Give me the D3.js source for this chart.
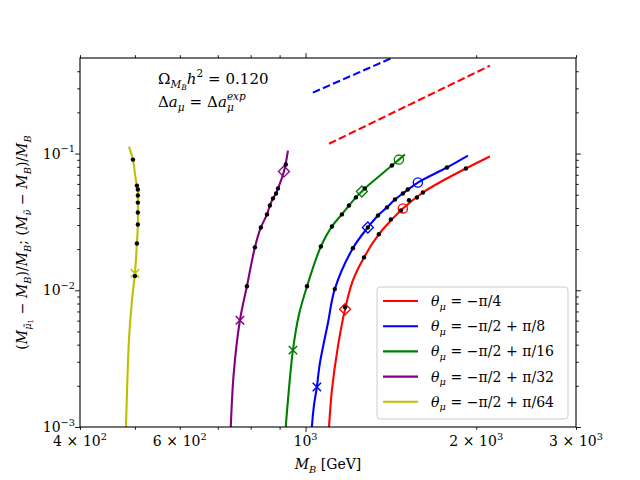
<!DOCTYPE html>
<html>
<head>
<meta charset="utf-8">
<script src="https://cdn.jsdelivr.net/npm/d3@7"></script>
<style>
body { margin: 0; background: #fff; }
</style>
</head>
<body>
<div id="chart"></div>
<script>

const WIDTH = 640
const HEIGHT = 480
const PLOT = {left: 80, right: 576, top: 58, bottom: 427}
const FONT = "'DejaVu Serif', 'Liberation Serif', serif"
const FS = 14

// x = M_B [GeV], y = mass splitting
const seriesLabels = ["\u2212\u03c0/4", "\u2212\u03c0/2 + \u03c0/8", "\u2212\u03c0/2 + \u03c0/16", "\u2212\u03c0/2 + \u03c0/32", "\u2212\u03c0/2 + \u03c0/64"]
const seriesColors = ["#ff0000", "#0000ff", "#008000", "#800080", "#bfbf00"]

const redCurve = [[1097, 0.0008], [1100, 0.001], [1113, 0.00186], [1140, 0.00384], [1174, 0.00726], [1212, 0.0118], [1268, 0.0174], [1347, 0.0257], [1420, 0.033], [1485, 0.0397], [1611, 0.0519], [1762, 0.0646], [1918, 0.0778], [2114, 0.0951]]
const blueCurve = [[1024, 0.0008], [1026, 0.001], [1035, 0.00145], [1047, 0.00196], [1060, 0.00293], [1095, 0.00574], [1126, 0.0102], [1212, 0.0203], [1288, 0.0288], [1342, 0.0352], [1392, 0.0404], [1438, 0.0461], [1485, 0.0511], [1578, 0.0614], [1776, 0.0791], [1934, 0.0966]]
const greenCurve = [[921, 0.0008], [923, 0.001], [931, 0.00157], [950, 0.00365], [973, 0.00657], [1006, 0.0107], [1064, 0.0209], [1113, 0.0293], [1159, 0.0359], [1193, 0.0417], [1227, 0.0478], [1257, 0.0528], [1272, 0.0556], [1420, 0.0817], [1461, 0.0903], [1497, 0.0984]]
const purpleCurve = [[737, 0.0008], [738, 0.001], [747, 0.00248], [766, 0.00604], [788, 0.0107], [814, 0.0206], [834, 0.0288], [855, 0.0359], [865, 0.0417], [876, 0.047], [887, 0.0511], [894, 0.0556], [916, 0.074], [931, 0.105]]
const yellowCurve = [[481, 0.0008], [482, 0.001], [488, 0.00431], [494, 0.00845], [500, 0.0133], [504, 0.022], [506, 0.0303], [506, 0.0371], [506, 0.0438], [506, 0.0493], [506, 0.0546], [504, 0.0583], [500, 0.0714], [496, 0.0903], [488, 0.1125]]
const curves = [redCurve, blueCurve, greenCurve, purpleCurve, yellowCurve]

// black dots sitting on the curves
const redDots = [[1174, 0.00752], [1268, 0.0174], [1347, 0.0257], [1414, 0.033], [1473, 0.0384], [1522, 0.0456], [1572, 0.0477], [1611, 0.0519], [1918, 0.0778]]
const blueDots = [[1126, 0.0102], [1212, 0.0203], [1288, 0.0288], [1342, 0.0352], [1392, 0.0404], [1438, 0.0461], [1485, 0.0511], [1515, 0.0546], [1776, 0.0791]]
const greenDots = [[1006, 0.0107], [1064, 0.0209], [1113, 0.0293], [1159, 0.0359], [1193, 0.0417], [1227, 0.0478], [1272, 0.0556], [1420, 0.0817]]
const purpleDots = [[788, 0.0107], [814, 0.0206], [834, 0.0288], [855, 0.0359], [865, 0.0417], [876, 0.047], [887, 0.0511], [894, 0.0556], [923, 0.0832]]
const yellowDots = [[500, 0.0127], [504, 0.022], [506, 0.0303], [506, 0.0371], [506, 0.0438], [506, 0.0493], [506, 0.0546], [504, 0.0583], [496, 0.0903]]
const dots = [redDots, blueDots, greenDots, purpleDots, yellowDots]

// open markers: x, diamond, circle  (null = none)
const crossMarks = [null, [1047, 0.00196], [950, 0.00365], [766, 0.00604], [500, 0.0133]]
const diamondMarks = [[1174, 0.00726], [1288, 0.0288], [1257, 0.0528], [916, 0.074], null]
const circleMarks = [[1485, 0.0397], [1578, 0.0614], [1461, 0.0903], null, null]

// dashed lines at the top
const blueDashed = [[1030, 0.279], [1420, 0.5]]
const redDashed = [[1100, 0.118], [2114, 0.439]]

const xMajorTicks = [1000]
const xMinorTicks = [400, 500, 600, 700, 800, 900, 2000, 3000]
const xTickLabels = [[400, "4", "2"], [600, "6", "2"], [1000, null, "3"], [2000, "2", "3"], [3000, "3", "3"]]
const yMajorTicks = [0.001, 0.01, 0.1]
const yMinorTicks = [2e-3, 3e-3, 4e-3, 5e-3, 6e-3, 7e-3, 8e-3, 9e-3, 2e-2, 3e-2, 4e-2, 5e-2, 6e-2, 7e-2, 8e-2, 9e-2, 0.2, 0.3, 0.4]
const yTickLabels = [[0.001, "\u22123"], [0.01, "\u22122"], [0.1, "\u22121"]]

// math-ish spacing around binary operators
const SP = "\u2004"


const svg = d3.select("#chart").append("svg")
    .attr("width", WIDTH)
    .attr("height", HEIGHT)
    .style("font-family", FONT)

const x = d3.scaleLog().domain([400, 3000]).range([PLOT.left, PLOT.right])
const y = d3.scaleLog().domain([0.001, 0.5]).range([PLOT.bottom, PLOT.top])

svg.append("clipPath").attr("id", "plotClip")
    .append("rect")
    .attr("x", PLOT.left).attr("y", PLOT.top)
    .attr("width", PLOT.right - PLOT.left).attr("height", PLOT.bottom - PLOT.top)

// small helper for text with sub/superscripts
// each part: {t, i (italic), o (vertical offset in em), z (size factor), back (overlap previous)}
function mathText(parent, parts, fs) {
    let t = parent.append("text").attr("font-size", fs).attr("fill", "#000")
    let cur = 0
    let prev = null
    parts.forEach(p => {
        let off = (p.o || 0) * fs
        let ts = t.append("tspan")
            .text(p.t)
            .attr("dy", off - cur)
            .attr("font-style", p.i ? "italic" : "normal")
            .attr("font-size", (p.z || 1) * fs)
        if (p.back && prev) ts.attr("dx", -prev.node().getComputedTextLength())
        cur = off
        prev = ts
    })
    return t
}

// ---- axes ----
function drawTicks(axisFn, ticks, size, transform) {
    svg.append("g")
        .attr("transform", transform)
        .call(axisFn.tickValues(ticks).tickSize(size).tickSizeOuter(0).tickFormat(""))
        .call(g => g.select(".domain").remove())
        .call(g => g.selectAll("line").attr("stroke", "#000").attr("stroke-width", 0.9))
}

drawTicks(d3.axisBottom(x), xMajorTicks, 4.9, `translate(0,${PLOT.bottom})`)
drawTicks(d3.axisBottom(x), xMinorTicks, 2.8, `translate(0,${PLOT.bottom})`)
drawTicks(d3.axisTop(x), xMajorTicks, 4.9, `translate(0,${PLOT.top})`)
drawTicks(d3.axisTop(x), xMinorTicks, 2.8, `translate(0,${PLOT.top})`)
drawTicks(d3.axisLeft(y), yMajorTicks, 4.9, `translate(${PLOT.left},0)`)
drawTicks(d3.axisLeft(y), yMinorTicks, 2.8, `translate(${PLOT.left},0)`)
drawTicks(d3.axisRight(y), yMajorTicks, 4.9, `translate(${PLOT.right},0)`)
drawTicks(d3.axisRight(y), yMinorTicks, 2.8, `translate(${PLOT.right},0)`)

xTickLabels.forEach(([v, mant, ex]) => {
    let parts = []
    if (mant) parts.push({t: mant + SP + "\u00d7" + SP})
    parts.push({t: "10"}, {t: ex, o: -0.45, z: 0.7})
    mathText(svg, parts, FS)
        .attr("x", x(v)).attr("y", PLOT.bottom + 19)
        .attr("text-anchor", "middle")
})

yTickLabels.forEach(([v, ex]) => {
    mathText(svg, [{t: "10"}, {t: ex, o: -0.45, z: 0.7}], FS)
        .attr("x", PLOT.left - 5).attr("y", y(v) + 5)
        .attr("text-anchor", "end")
})

// axis titles
mathText(svg, [{t: "M", i: true}, {t: "B", i: true, o: 0.25, z: 0.7}, {t: " [GeV]", o: 0}], FS)
    .attr("x", 328).attr("y", 469)
    .attr("text-anchor", "middle")

mathText(svg, [
    {t: "("}, {t: "M", i: true}, {t: "\u03bc\u0303", i: true, o: 0.25, z: 0.7}, {t: "1", o: 0.42, z: 0.5},
    {t: SP + "\u2212" + SP}, {t: "M", i: true}, {t: "B", i: true, o: 0.25, z: 0.7},
    {t: ")/"}, {t: "M", i: true}, {t: "B", i: true, o: 0.25, z: 0.7},
    {t: ";" + SP + "("}, {t: "M", i: true}, {t: "\u03bd\u0303", i: true, o: 0.25, z: 0.7},
    {t: SP + "\u2212" + SP}, {t: "M", i: true}, {t: "B", i: true, o: 0.25, z: 0.7},
    {t: ")/"}, {t: "M", i: true}, {t: "B", i: true, o: 0.25, z: 0.7}
], FS)
    .attr("text-anchor", "middle")
    .attr("transform", `translate(27,${(PLOT.top + PLOT.bottom) / 2}) rotate(-90)`)

// ---- data ----
const plot = svg.append("g").attr("clip-path", "url(#plotClip)")

const line = d3.line()
    .x(d => x(d[0]))
    .y(d => y(d[1]))
    .curve(d3.curveCatmullRom.alpha(0.5))

plot.append("path").datum(blueDashed)
    .attr("d", d3.line().x(d => x(d[0])).y(d => y(d[1])))
    .attr("fill", "none").attr("stroke", "#0000ff").attr("stroke-width", 2.1)
    .attr("stroke-dasharray", "7.7,3.3")
plot.append("path").datum(redDashed)
    .attr("d", d3.line().x(d => x(d[0])).y(d => y(d[1])))
    .attr("fill", "none").attr("stroke", "#ff0000").attr("stroke-width", 2.1)
    .attr("stroke-dasharray", "7.7,3.3")

curves.forEach((c, i) => {
    plot.append("path").datum(c)
        .attr("d", line)
        .attr("fill", "none")
        .attr("stroke", seriesColors[i])
        .attr("stroke-width", 2.1)
})

// open markers
seriesColors.forEach((col, i) => {
    let cm = crossMarks[i]
    if (cm) {
        let cx = x(cm[0]), cy = y(cm[1]), s = 4.2
        plot.append("path")
            .attr("d", `M${cx - s},${cy - s}L${cx + s},${cy + s}M${cx - s},${cy + s}L${cx + s},${cy - s}`)
            .attr("stroke", col).attr("stroke-width", 1.5).attr("fill", "none")
    }
    let dm = diamondMarks[i]
    if (dm) {
        let cx = x(dm[0]), cy = y(dm[1]), s = 5.5
        plot.append("path")
            .attr("d", `M${cx},${cy - s}L${cx + s},${cy}L${cx},${cy + s}L${cx - s},${cy}Z`)
            .attr("stroke", col).attr("stroke-width", 1.3).attr("fill", "none")
    }
    let ci = circleMarks[i]
    if (ci) {
        plot.append("circle")
            .attr("cx", x(ci[0])).attr("cy", y(ci[1])).attr("r", 4.6)
            .attr("stroke", col).attr("stroke-width", 1.3).attr("fill", "none")
    }
})

dots.forEach(ds => {
    plot.selectAll(null).data(ds).enter().append("circle")
        .attr("cx", d => x(d[0]))
        .attr("cy", d => y(d[1]))
        .attr("r", 2.2)
        .attr("fill", "#000")
})

// frame
svg.append("rect")
    .attr("x", PLOT.left).attr("y", PLOT.top)
    .attr("width", PLOT.right - PLOT.left).attr("height", PLOT.bottom - PLOT.top)
    .attr("fill", "none").attr("stroke", "#000").attr("stroke-width", 1.1)

// annotation
mathText(svg, [
    {t: "\u03a9"}, {t: "M", i: true, o: 0.25, z: 0.7}, {t: "B", i: true, o: 0.4, z: 0.5},
    {t: "h", i: true, o: 0}, {t: "2", o: -0.45, z: 0.7}, {t: SP + "=" + SP + "0.120", o: 0}
], 15).attr("x", 158).attr("y", 84)

mathText(svg, [
    {t: "\u0394"}, {t: "a", i: true}, {t: "\u03bc", i: true, o: 0.25, z: 0.7},
    {t: SP + "=" + SP + "\u0394", o: 0}, {t: "a", i: true},
    {t: "\u03bc", i: true, o: 0.25, z: 0.7},
    {t: "exp", i: true, o: -0.45, z: 0.7, back: true}
], 15).attr("x", 158).attr("y", 107)

// legend
const legend = svg.append("g")
legend.append("rect")
    .attr("x", 377).attr("y", 287).attr("width", 191).attr("height", 132)
    .attr("rx", 3).attr("fill", "#fff").attr("fill-opacity", 0.8)
    .attr("stroke", "#cccccc").attr("stroke-width", 1)

seriesLabels.forEach((lab, i) => {
    let ly = 301 + i * 25.2
    legend.append("line")
        .attr("x1", 383).attr("x2", 418).attr("y1", ly).attr("y2", ly)
        .attr("stroke", seriesColors[i]).attr("stroke-width", 2.1)
    mathText(legend, [
        {t: "\u03b8", i: true}, {t: "\u03bc", i: true, o: 0.25, z: 0.7},
        {t: SP + "=" + SP + lab.replace(/ /g, SP), o: 0}
    ], FS).attr("x", 431).attr("y", ly + 5)
})
</script>
</body>
</html>
